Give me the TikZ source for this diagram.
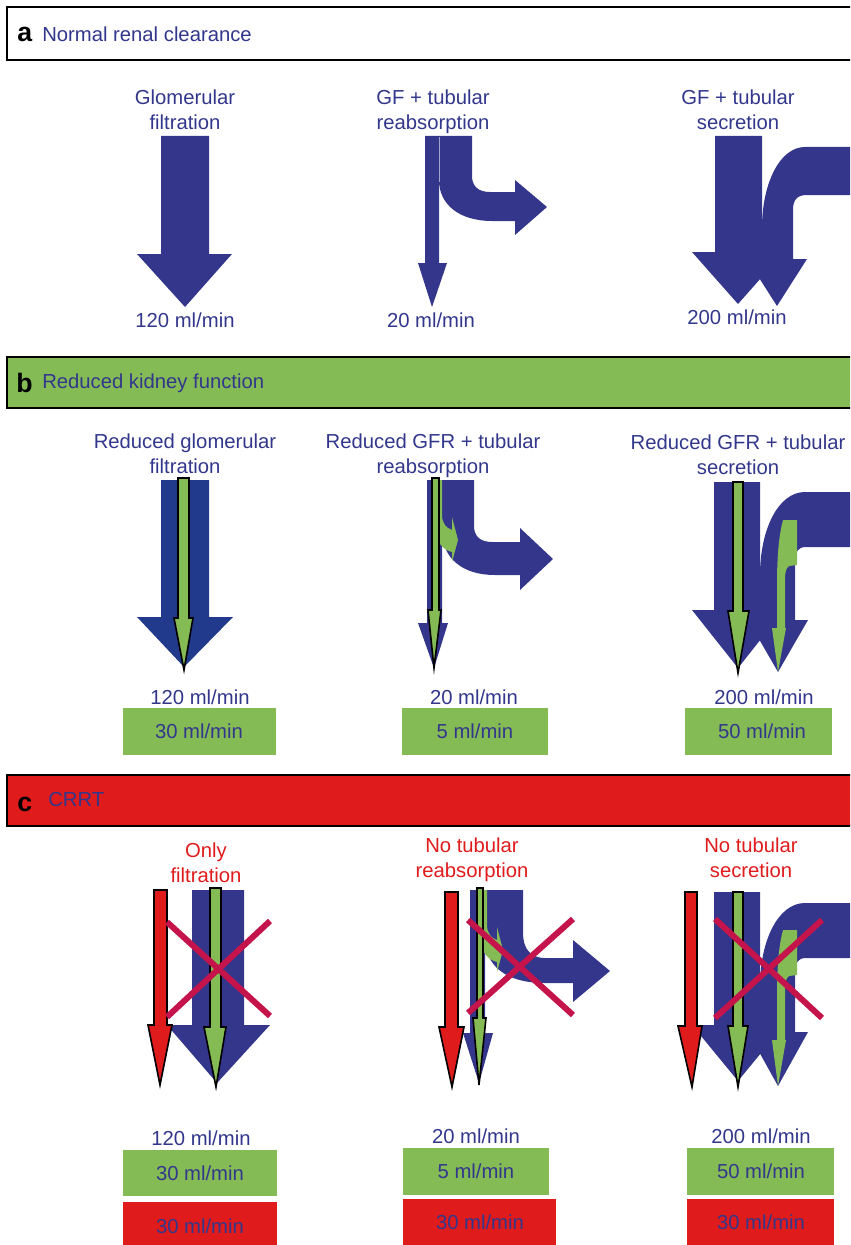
\documentclass[tikz,border=0pt]{standalone}
\usepackage{fontspec}
\setmainfont{Liberation Sans}
\definecolor{navy}{RGB}{51,54,138}
\definecolor{navyd}{RGB}{33,58,140}
\definecolor{grn}{RGB}{133,187,85}
\definecolor{redc}{RGB}{224,27,27}
\definecolor{crossc}{RGB}{196,20,75}
\definecolor{txtc}{RGB}{50,55,140}
\begin{document}
\begin{tikzpicture}[x=0.75pt,y=-0.75pt,
  lbl/.style={text=txtc,font=\fontsize{15.2}{18.75}\selectfont,align=center,inner sep=0pt},
  rlbl/.style={lbl,text=redc},
  hletter/.style={text=black,font=\fontsize{20}{22}\selectfont\bfseries,inner sep=0pt,anchor=west},
  htext/.style={lbl,anchor=west},
  hdr/.style={draw=black,line width=1.5pt},
  bl/.style={fill=navy},
  gout/.style={fill=grn,draw=black,line width=1.2pt,line join=miter},
  rout/.style={fill=redc,draw=black,line width=1.2pt,line join=miter},
  crossl/.style={draw=crossc,line width=4.5pt}]
\useasboundingbox (0,0) rectangle (850,1245);
\begin{scope}
\clip (0,0) rectangle (850,1245);
% ---------- headers
\draw[hdr,fill=white] (7,7) rectangle (870,60);
\node[hletter] (ha) at (17,34) {a};
\node[htext] (hat) at (42,34) {Normal renal clearance};
\draw[hdr,fill=grn] (7,357) rectangle (870,408);
\node[hletter] (hb) at (16,383) {b};
\node[htext] (hbt) at (42,383) {Reduced kidney function};
\draw[hdr,fill=redc] (7,775) rectangle (870,826);
\node[hletter] (hc) at (17,804) {c};
\node[htext] (hct) at (48,800) {CRRT};

% ---------- section a
\node[lbl] (a1l) at (185,110) {Glomerular\\filtration};
\node[lbl] (a2l) at (433,112) {GF + tubular\\reabsorption};
\node[lbl] (a3l) at (738,110) {GF + tubular\\secretion};
\fill[bl] (161,136) -- (209,136) -- (209,254) -- (232,254) -- (185,307) -- (137,254) -- (161,254) -- cycle;
\fill[bl] (425,136) -- (439,136) -- (439,263) -- (447,263) -- (432,307) -- (418,263) -- (425,263) -- cycle;
\fill[bl] (439,136) -- (472,136) -- (472,176) .. controls (472,186) and (478,192) .. (490,192) -- (515,192) -- (515,180) -- (547,207) -- (515,235) -- (515,221) -- (492,221) .. controls (460,221) and (439,205) .. (439,180) -- cycle;
\draw[white!55!navy,line width=0.4pt] (439,137) -- (439,182);
\fill[bl] (715,136) -- (762,136) -- (762,252) -- (784,252) -- (738,304) -- (692,252) -- (715,252) -- cycle;
\fill[bl] (860,147) -- (805,147) .. controls (780,147) and (762,183) .. (762,228) -- (762,259) -- (747,259) -- (777,306) -- (807,259) -- (793,259) -- (793,210) .. controls (793,200) and (797,195) .. (807,195) -- (860,195) -- cycle;
\node[lbl] (a1v) at (185,320) {120 ml/min};
\node[lbl] (a2v) at (431,320) {20 ml/min};
\node[lbl] (a3v) at (737,317) {200 ml/min};

% ---------- section b
\node[lbl] (b1l) at (185,454) {Reduced glomerular\\filtration};
\node[lbl] (b2l) at (433,456) {Reduced GFR + tubular\\reabsorption};
\node[lbl] (b3l) at (738,455) {Reduced GFR + tubular\\secretion};
% b1
\fill[navyd] (161,480) -- (209,480) -- (209,617) -- (233,617) -- (184,667) -- (137,617) -- (161,617) -- cycle;
\filldraw[gout] (178,478) -- (189,478) -- (189,618) -- (193,618) -- (184,670) -- (174,618) -- (178,618) -- cycle;
% b2
\fill[bl] (427,480) -- (442,480) -- (442,623) -- (448,623) -- (434,668) -- (418,623) -- (427,623) -- cycle;
\fill[bl] (442,480) -- (474,480) -- (474,526) .. controls (474,536) and (480,542) .. (492,542) -- (520,542) -- (520,528) -- (553,559) -- (520,590) -- (520,575) -- (495,575) .. controls (462,575) and (442,558) .. (442,530) -- cycle;
\fill[grn] (436,480) -- (442,480) -- (442,515) .. controls (442,523) and (446,528) .. (452,530) -- (452,517) -- (458,540) -- (452,562) -- (452,552) .. controls (443,550) and (437,542) .. (436,533) -- cycle;
\filldraw[gout] (432,478) -- (439,478) -- (439,610) -- (441,610) -- (434,668) -- (428,610) -- (432,610) -- cycle;
% b3
\fill[bl] (714,482) -- (760,482) -- (760,610) -- (784,610) -- (738,668) -- (692,610) -- (714,610) -- cycle;
\fill[bl] (860,492) -- (805,492) .. controls (778,492) and (760,530) .. (760,575) -- (760,620) -- (748,620) -- (778,672) -- (808,620) -- (795,620) -- (795,560) .. controls (795,552) and (798,547) .. (806,547) -- (860,547) -- cycle;
\fill[grn] (783,520) -- (797,520) -- (797,565) -- (789,566) .. controls (786,568) and (785,572) .. (785,580) -- (785,628) -- (786,628) -- (778,672) -- (772,628) -- (777,628) -- (777,585) .. controls (777,555) and (779,535) .. (783,520) -- cycle;
\filldraw[gout] (733,482) -- (743,482) -- (743,611) -- (749,611) -- (738,673) -- (728,611) -- (733,611) -- cycle;
% values b
\node[lbl] (b1v) at (200,697) {120 ml/min};
\node[lbl] (b2v) at (474,697) {20 ml/min};
\node[lbl] (b3v) at (764,697) {200 ml/min};
\fill[grn] (123,708) rectangle (276,755);
\fill[grn] (402,708) rectangle (548,755);
\fill[grn] (685,708) rectangle (832,755);
\node[lbl] (b1g) at (199,731.5) {30 ml/min};
\node[lbl] (b2g) at (475,731.5) {5 ml/min};
\node[lbl] (b3g) at (762,731.5) {50 ml/min};

% ---------- section c
\node[rlbl] (c1l) at (206,863) {Only\\filtration};
\node[rlbl] (c2l) at (472,860) {No tubular\\reabsorption};
\node[rlbl] (c3l) at (751,858) {No tubular\\secretion};
% c1
\fill[bl] (192,890) -- (244,890) -- (244,1025) -- (270,1025) -- (217,1083) -- (167,1025) -- (192,1025) -- cycle;
\filldraw[gout] (210,888) -- (221,888) -- (221,1027) -- (226,1027) -- (216,1087) -- (204,1027) -- (210,1027) -- cycle;
\filldraw[rout] (154,890) -- (167,890) -- (167,1025) -- (172,1025) -- (160,1085) -- (148,1025) -- (154,1025) -- cycle;
\draw[crossl] (167,922) -- (270,1016);
\draw[crossl] (270,921) -- (167,1017);
% c2
\fill[bl] (470,890) -- (485,890) -- (485,1033) -- (493,1033) -- (479,1083) -- (463,1033) -- (470,1033) -- cycle;
\fill[bl] (485,890) -- (523,890) -- (523,933) .. controls (523,948) and (530,958) .. (545,958) -- (573,958) -- (573,940) -- (610,971) -- (573,1002) -- (573,983) -- (545,983) .. controls (505,983) and (485,965) .. (485,938) -- cycle;
\fill[grn] (481,890) -- (487,890) -- (487,925) .. controls (487,933) and (491,938) .. (497,940) -- (497,927) -- (503,950) -- (497,972) -- (497,962) .. controls (488,960) and (482,952) .. (481,943) -- cycle;
\filldraw[gout] (477,888) -- (483,888) -- (483,1018) -- (486,1018) -- (479,1085) -- (473,1018) -- (477,1018) -- cycle;
\filldraw[rout] (445,892) -- (458,892) -- (458,1027) -- (464,1027) -- (452,1087) -- (439,1027) -- (445,1027) -- cycle;
\draw[crossl] (468,920) -- (573,1015);
\draw[crossl] (573,919) -- (468,1013);
% c3
\fill[bl] (714,892) -- (760,892) -- (760,1025) -- (784,1025) -- (738,1081) -- (692,1025) -- (714,1025) -- cycle;
\fill[bl] (860,903) -- (805,903) .. controls (778,903) and (760,941) .. (760,986) -- (760,1032) -- (748,1032) -- (778,1086) -- (808,1032) -- (795,1032) -- (795,971) .. controls (795,963) and (798,958) .. (806,958) -- (860,958) -- cycle;
\fill[grn] (783,930) -- (797,930) -- (797,975) -- (789,976) .. controls (786,978) and (785,982) .. (785,990) -- (785,1040) -- (786,1040) -- (778,1086) -- (772,1040) -- (777,1040) -- (777,995) .. controls (777,965) and (779,945) .. (783,930) -- cycle;
\filldraw[gout] (733,892) -- (743,892) -- (743,1026) -- (748,1026) -- (738,1087) -- (728,1026) -- (733,1026) -- cycle;
\filldraw[rout] (685,892) -- (697,892) -- (697,1026) -- (702,1026) -- (692,1087) -- (678,1026) -- (685,1026) -- cycle;
\draw[crossl] (715,919) -- (822,1018);
\draw[crossl] (822,920) -- (715,1018);
% values c
\node[lbl] (c1v) at (201,1138) {120 ml/min};
\node[lbl] (c2v) at (476,1136) {20 ml/min};
\node[lbl] (c3v) at (761,1136) {200 ml/min};
\fill[grn] (123,1150) rectangle (277,1196);
\fill[redc] (123,1202) rectangle (277,1260);
\fill[grn] (403,1148) rectangle (549,1195);
\fill[redc] (403,1199) rectangle (556,1260);
\fill[grn] (687,1148) rectangle (834,1195);
\fill[redc] (687,1199) rectangle (834,1260);
\node[lbl] (c1g) at (200,1173) {30 ml/min};
\node[lbl] (c1r) at (200,1226) {30 ml/min};
\node[lbl] (c2g) at (476,1171.5) {5 ml/min};
\node[lbl] (c2r) at (480,1222) {30 ml/min};
\node[lbl] (c3g) at (761,1171.5) {50 ml/min};
\node[lbl] (c3r) at (761,1222) {30 ml/min};
\end{scope}
\end{tikzpicture}
\end{document}
